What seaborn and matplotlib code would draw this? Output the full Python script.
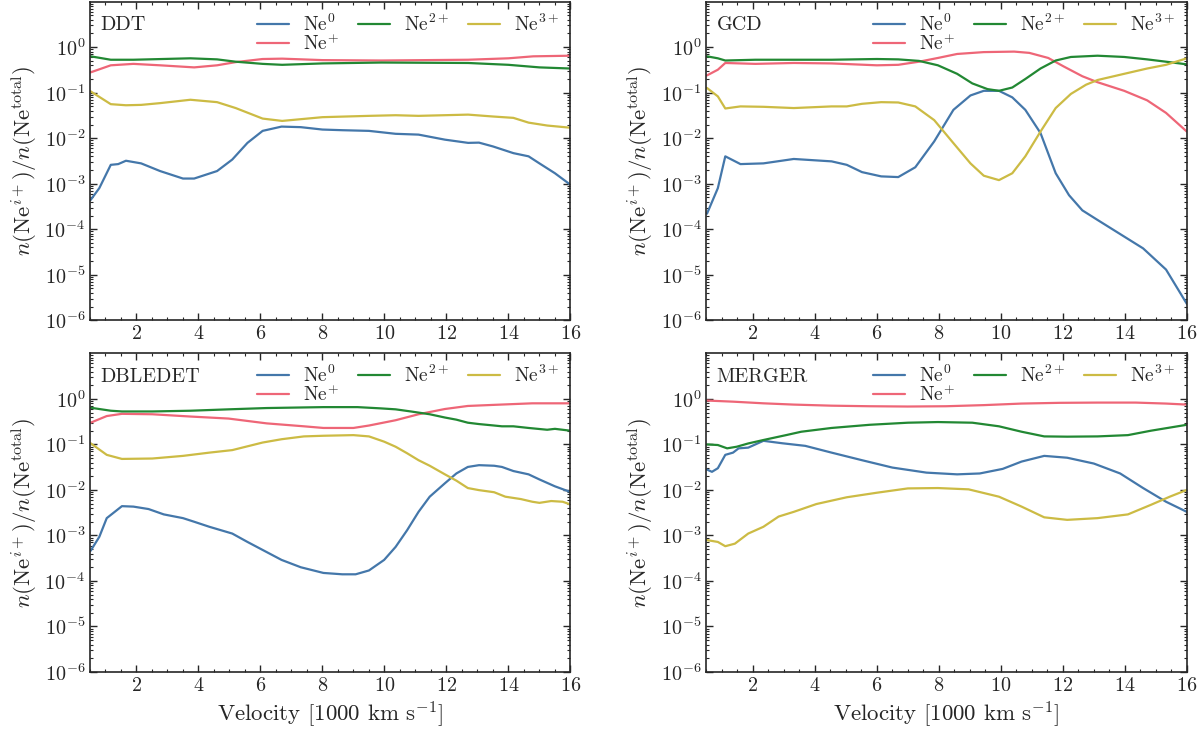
import matplotlib
matplotlib.use("Agg")
import matplotlib.pyplot as plt
import matplotlib.ticker as mticker
import seaborn as sns

# Paul Tol "bright" colours
COLORS = {"Ne0": "#4477AA", "Ne+": "#EE6677", "Ne2+": "#228833", "Ne3+": "#CCBB44"}
LABELS = {"Ne0": r"Ne$^{0}$", "Ne+": r"Ne$^{+}$", "Ne2+": r"Ne$^{2+}$", "Ne3+": r"Ne$^{3+}$"}

# ---- DDT ----
DDT_NE0_V = [0.52, 0.8, 1.17, 1.41, 1.66, 2.15, 2.76, 3.5, 3.86, 4.6, 5.09, 5.58, 6.07, 6.68, 7.3,
             8.0, 8.64, 9.5, 10.36, 11.1, 11.95, 12.7, 13.05, 13.5, 14.16, 14.65, 15.0, 15.5, 16.0]
DDT_NE0 = [4.4e-4, 8e-4, 2.6e-3, 2.7e-3, 3.2e-3, 2.8e-3, 1.9e-3, 1.3e-3, 1.3e-3, 1.9e-3, 3.4e-3,
           7.9e-3, 1.45e-2, 1.8e-2, 1.75e-2, 1.55e-2, 1.5e-2, 1.45e-2, 1.25e-2, 1.2e-2, 9.3e-3,
           7.9e-3, 8e-3, 6.6e-3, 4.7e-3, 4e-3, 2.8e-3, 1.7e-3, 9.5e-4]
DDT_NEP_V = [0.52, 1.17, 1.9, 2.76, 3.86, 4.6, 5.2, 6.07, 6.7, 8.0, 9.9, 12.7, 14.0, 14.8, 16.0]
DDT_NEP = [0.28, 0.40, 0.43, 0.40, 0.36, 0.40, 0.47, 0.55, 0.56, 0.52, 0.51, 0.53, 0.57, 0.63, 0.65]
DDT_NE2_V = [0.52, 1.17, 1.9, 3.74, 4.6, 5.2, 6.07, 6.7, 8.0, 9.9, 12.7, 14.0, 15.0, 16.0]
DDT_NE2 = [0.63, 0.53, 0.53, 0.57, 0.54, 0.48, 0.43, 0.41, 0.44, 0.46, 0.45, 0.41, 0.36, 0.34]
DDT_NE3_V = [0.52, 1.17, 1.66, 2.15, 2.76, 3.74, 4.6, 5.2, 6.07, 6.7, 8.0, 9.5, 10.36, 11.1, 12.7,
             13.5, 14.16, 14.65, 15.25, 16.0]
DDT_NE3 = [0.107, 0.056, 0.053, 0.054, 0.059, 0.070, 0.062, 0.046, 0.027, 0.024, 0.029, 0.031,
           0.032, 0.031, 0.033, 0.030, 0.028, 0.022, 0.019, 0.017]

# ---- GCD ----
GCD_NE0_V = [0.52, 0.87, 1.11, 1.6, 2.34, 3.32, 4.54, 5.03, 5.52, 6.14, 6.69, 7.24, 7.85, 8.47,
             9.02, 9.45, 9.94, 10.37, 10.79, 11.28, 11.77, 12.2, 12.63, 13.12, 13.98, 14.59, 15.33, 16.0]
GCD_NE0 = [2.2e-4, 8e-4, 4e-3, 2.7e-3, 2.8e-3, 3.5e-3, 3.1e-3, 2.6e-3, 1.8e-3, 1.45e-3, 1.4e-3,
           2.3e-3, 8.5e-3, 0.042, 0.087, 0.11, 0.11, 0.079, 0.042, 0.013, 1.7e-3, 5.6e-4, 2.6e-4,
           1.6e-4, 6.9e-5, 3.8e-5, 1.3e-5, 2.3e-6]
GCD_NEP_V = [0.52, 0.87, 1.11, 2.08, 3.32, 4.54, 6.0, 6.69, 7.36, 7.97, 8.59, 9.45, 10.43, 10.92,
             11.53, 12.02, 12.63, 13.12, 13.98, 14.72, 15.33, 16.0]
GCD_NEP = [0.24, 0.32, 0.45, 0.43, 0.45, 0.44, 0.40, 0.41, 0.48, 0.58, 0.71, 0.78, 0.80, 0.75,
           0.58, 0.38, 0.23, 0.17, 0.11, 0.068, 0.036, 0.014]
GCD_NE2_V = [0.52, 0.87, 1.11, 2.08, 4.54, 6.0, 6.69, 7.36, 7.97, 8.59, 9.08, 9.57, 9.94, 10.37,
             10.79, 11.28, 11.77, 12.26, 13.12, 13.98, 14.72, 15.33, 16.0]
GCD_NE2 = [0.63, 0.57, 0.51, 0.53, 0.53, 0.55, 0.54, 0.50, 0.40, 0.26, 0.16, 0.12, 0.11, 0.13,
           0.20, 0.34, 0.51, 0.61, 0.65, 0.61, 0.54, 0.48, 0.42]
GCD_NE3_V = [0.52, 0.87, 1.11, 1.6, 2.34, 3.32, 4.54, 5.03, 5.52, 6.14, 6.69, 7.24, 7.85, 8.47,
             9.02, 9.45, 9.94, 10.37, 10.79, 11.28, 11.77, 12.26, 12.75, 13.12, 13.98, 14.72, 15.33, 16.0]
GCD_NE3 = [0.127, 0.083, 0.045, 0.050, 0.049, 0.046, 0.050, 0.050, 0.057, 0.062, 0.061, 0.050,
           0.025, 7.8e-3, 2.8e-3, 1.5e-3, 1.2e-3, 1.7e-3, 4e-3, 0.014, 0.046, 0.094, 0.15, 0.19,
           0.26, 0.34, 0.41, 0.57]

# ---- DBLEDET ----
DBL_NE0_V = [0.52, 0.8, 1.04, 1.53, 1.9, 2.39, 2.88, 3.5, 3.86, 4.35, 5.09, 5.58, 6.07, 6.68, 7.3,
             8.03, 8.64, 9.07, 9.5, 9.99, 10.36, 10.73, 11.1, 11.46, 11.95, 12.32, 12.69, 13.05,
             13.54, 13.79, 14.16, 14.65, 15.0, 15.5, 16.0]
DBL_NE0 = [4.6e-4, 9.3e-4, 2.4e-3, 4.4e-3, 4.3e-3, 3.8e-3, 2.9e-3, 2.4e-3, 2.0e-3, 1.55e-3, 1.1e-3,
           7.2e-4, 4.8e-4, 2.9e-4, 2.0e-4, 1.5e-4, 1.4e-4, 1.4e-4, 1.7e-4, 2.9e-4, 5.6e-4, 1.3e-3,
           3.3e-3, 7.1e-3, 0.014, 0.023, 0.032, 0.035, 0.034, 0.032, 0.026, 0.022, 0.017, 0.012, 9e-3]
DBL_NEP_V = [0.52, 1.04, 1.53, 2.51, 3.74, 4.97, 6.2, 7.4, 8.03, 9.0, 9.5, 10.36, 11.1, 11.95,
             12.69, 13.54, 14.77, 16.0]
DBL_NEP = [0.30, 0.42, 0.47, 0.46, 0.41, 0.37, 0.29, 0.25, 0.23, 0.23, 0.26, 0.34, 0.46, 0.60,
           0.70, 0.74, 0.80, 0.80]
DBL_NE2_V = [0.52, 1.17, 1.53, 2.51, 3.74, 4.97, 6.2, 8.03, 9.13, 9.87, 10.36, 10.85, 11.46, 11.95,
             12.32, 12.69, 13.05, 13.54, 13.79, 14.16, 14.65, 15.25, 15.5, 16.0]
DBL_NE2 = [0.64, 0.55, 0.53, 0.53, 0.55, 0.59, 0.63, 0.66, 0.66, 0.62, 0.59, 0.53, 0.46, 0.39,
           0.35, 0.30, 0.28, 0.26, 0.25, 0.25, 0.23, 0.21, 0.22, 0.20]
DBL_NE3_V = [0.52, 1.04, 1.53, 2.51, 3.5, 4.35, 5.09, 6.07, 6.68, 7.4, 8.03, 9.0, 9.5, 9.99, 10.36,
             10.73, 11.1, 11.46, 11.95, 12.32, 12.69, 13.05, 13.54, 13.9, 14.4, 14.77, 15.0, 15.38,
             15.75, 16.0]
DBL_NE3 = [0.106, 0.059, 0.048, 0.049, 0.056, 0.066, 0.075, 0.11, 0.13, 0.15, 0.155, 0.16, 0.15,
           0.115, 0.089, 0.064, 0.045, 0.034, 0.022, 0.016, 0.011, 0.0099, 0.0089, 0.0071, 0.0063,
           0.0055, 0.0052, 0.0057, 0.0055, 0.0048]

# ---- MERGER ----
MRG_NE0_V = [0.52, 0.68, 0.87, 1.11, 1.36, 1.54, 1.85, 2.34, 2.95, 3.69, 4.54, 5.52, 6.5, 7.6,
             8.59, 9.32, 10.06, 10.67, 11.4, 12.14, 13.0, 13.85, 14.59, 15.33, 16.0]
MRG_NE0 = [0.028, 0.025, 0.030, 0.059, 0.066, 0.082, 0.085, 0.12, 0.106, 0.093, 0.066, 0.045,
           0.031, 0.024, 0.022, 0.023, 0.029, 0.042, 0.056, 0.051, 0.038, 0.023, 0.011, 0.0055, 0.0033]
MRG_NEP_V = [0.52, 1.36, 2.34, 3.32, 4.54, 5.77, 7.0, 8.23, 9.45, 10.67, 11.9, 13.12, 14.35, 15.33, 16.0]
MRG_NEP = [0.92, 0.87, 0.80, 0.75, 0.71, 0.69, 0.68, 0.69, 0.73, 0.79, 0.82, 0.83, 0.83, 0.79, 0.75]
MRG_NE2_V = [0.52, 0.87, 1.17, 1.48, 1.85, 2.34, 3.07, 3.56, 4.54, 5.77, 7.0, 7.97, 9.08, 9.94,
             10.67, 11.4, 12.14, 13.12, 14.1, 14.84, 16.0]
MRG_NE2 = [0.10, 0.097, 0.082, 0.089, 0.105, 0.125, 0.16, 0.19, 0.23, 0.27, 0.30, 0.31, 0.30, 0.25,
           0.19, 0.15, 0.148, 0.15, 0.16, 0.20, 0.27]
MRG_NE3_V = [0.52, 0.87, 1.11, 1.42, 1.85, 2.34, 2.83, 3.32, 4.05, 5.03, 6.01, 7.0, 7.97, 8.96,
             9.94, 10.67, 11.4, 12.14, 13.12, 14.1, 14.84, 15.45, 16.0]
MRG_NE3 = [7.9e-4, 7.2e-4, 5.8e-4, 6.6e-4, 1.1e-3, 1.55e-3, 2.6e-3, 3.3e-3, 4.9e-3, 6.9e-3, 8.7e-3,
           0.0108, 0.011, 0.0103, 7.1e-3, 4.3e-3, 2.5e-3, 2.2e-3, 2.4e-3, 2.9e-3, 4.7e-3, 7.1e-3, 0.01]

PANELS = [
    ("DDT", [("Ne0", DDT_NE0_V, DDT_NE0), ("Ne+", DDT_NEP_V, DDT_NEP),
             ("Ne2+", DDT_NE2_V, DDT_NE2), ("Ne3+", DDT_NE3_V, DDT_NE3)]),
    ("GCD", [("Ne0", GCD_NE0_V, GCD_NE0), ("Ne+", GCD_NEP_V, GCD_NEP),
             ("Ne2+", GCD_NE2_V, GCD_NE2), ("Ne3+", GCD_NE3_V, GCD_NE3)]),
    ("DBLEDET", [("Ne0", DBL_NE0_V, DBL_NE0), ("Ne+", DBL_NEP_V, DBL_NEP),
                 ("Ne2+", DBL_NE2_V, DBL_NE2), ("Ne3+", DBL_NE3_V, DBL_NE3)]),
    ("MERGER", [("Ne0", MRG_NE0_V, MRG_NE0), ("Ne+", MRG_NEP_V, MRG_NEP),
                ("Ne2+", MRG_NE2_V, MRG_NE2), ("Ne3+", MRG_NE3_V, MRG_NE3)]),
]

sns.set_style("ticks")
plt.rcParams.update({
    "font.family": "serif",
    "font.serif": ["cmr10", "DejaVu Serif"],
    "mathtext.fontset": "cm",
    "axes.formatter.use_mathtext": True,
    "axes.unicode_minus": False,
    "axes.linewidth": 1.2,
    "xtick.direction": "in",
    "ytick.direction": "in",
    "xtick.top": True,
    "ytick.right": True,
})

fig, axes = plt.subplots(2, 2, figsize=(12, 7.32), dpi=100)
fig.subplots_adjust(left=0.075, right=0.989, top=0.9977, bottom=0.082,
                    wspace=0.283, hspace=0.104)

for ax, (name, series) in zip(axes.flat, PANELS):
    for key, v, y in series:
        sns.lineplot(x=v, y=y, ax=ax, color=COLORS[key], label=LABELS[key],
                     linewidth=1.6, estimator=None, sort=False)
    ax.set_yscale("log")
    ax.set_xlim(0.5, 16)
    ax.set_ylim(1e-6, 10)
    ax.set_yticks([1e-6, 1e-5, 1e-4, 1e-3, 1e-2, 1e-1, 1e0])
    ax.yaxis.set_minor_locator(mticker.LogLocator(base=10, subs=range(2, 10), numticks=20))
    ax.yaxis.set_minor_formatter(mticker.NullFormatter())
    ax.xaxis.set_major_locator(mticker.MultipleLocator(2))
    ax.xaxis.set_minor_locator(mticker.MultipleLocator(0.5))
    ax.tick_params(which="major", length=4.7, width=1.0, labelsize=14.5)
    ax.tick_params(which="minor", length=2.5, width=0.8)
    ax.set_ylabel(r"$n(\mathrm{Ne}^{i+})/n(\mathrm{Ne}^{\mathrm{total}})$", fontsize=16.5)
    ax.set_xlabel("")
    ax.text(0.021, 0.927, name, transform=ax.transAxes, fontsize=14.5, va="center", ha="left")
    ax.legend(loc="upper right", ncol=3, frameon=False, fontsize=14,
              handlelength=1.65, handletextpad=0.7, columnspacing=1.0,
              labelspacing=-0.08, borderaxespad=0.2)

for ax in axes[1]:
    ax.set_xlabel(r"Velocity [1000 km s$^{-1}$]", fontsize=16.5)

fig.savefig("out.png", dpi=100)
